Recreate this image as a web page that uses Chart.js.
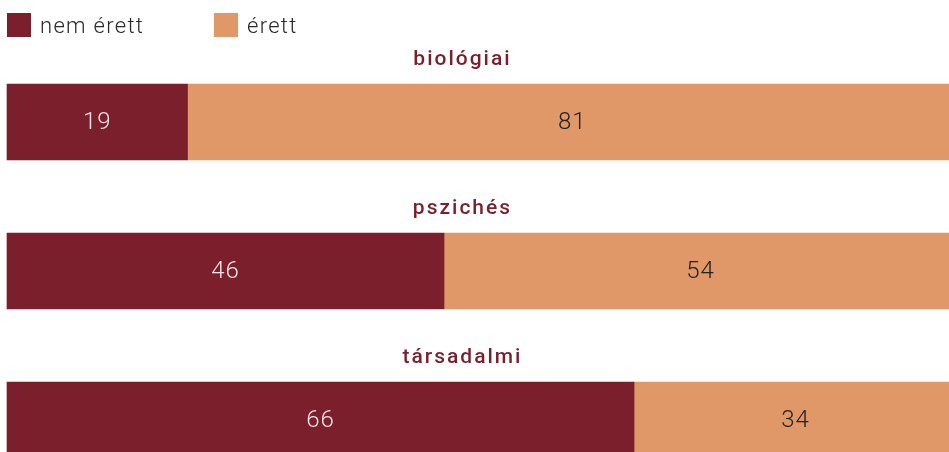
<!DOCTYPE html>
<html><head><meta charset="utf-8">
<script src="https://cdn.jsdelivr.net/npm/chart.js@4.4.0/dist/chart.umd.min.js"></script>
<style>html,body{margin:0;padding:0;background:#fff;overflow:hidden}canvas{display:block}</style>
</head><body><canvas id="c" width="949" height="452"></canvas>
<script>
const categories = ['biológiai', 'pszichés', 'társadalmi'];
const seriesNames = ['nem érett', 'érett'];
const notMature = [19, 46, 66];
const mature = [81, 54, 34];

const colors = ['#7b1f2d', '#e19868'];
const FONT = 'Roboto, "Open Sans", sans-serif';

const overlay = {
  id: 'overlay',
  afterDatasetsDraw(chart) {
    const ctx = chart.ctx;
    const ca = chart.chartArea;
    ctx.save();
    // value labels
    chart.data.datasets.forEach((ds, di) => {
      const meta = chart.getDatasetMeta(di);
      meta.data.forEach((el, i) => {
        const cx = (el.x + el.base) / 2;
        ctx.font = '300 24px ' + FONT;
        ctx.letterSpacing = '1px';
        ctx.fillStyle = di === 0 ? '#f3e3e3' : '#222222';
        ctx.textAlign = 'center';
        ctx.textBaseline = 'middle';
        ctx.fillText(String(ds.data[i]), cx, el.y + 1);
      });
    });
    // category titles above bars
    const meta0 = chart.getDatasetMeta(0);
    const tx = ca.left + (ca.right - ca.left) * 0.4835;
    meta0.data.forEach((el, i) => {
      const top = el.y - el.height / 2;
      ctx.font = '500 21px ' + FONT;
      ctx.letterSpacing = '2px';
      ctx.fillStyle = colors[0];
      ctx.textAlign = 'center';
      ctx.textBaseline = 'alphabetic';
      ctx.fillText(chart.data.labels[i], tx, top - 19.5);
    });
    // legend
    const legendX = [7, 214];
    chart.data.datasets.forEach((ds, di) => {
      const x = legendX[di];
      ctx.fillStyle = ds.backgroundColor;
      ctx.fillRect(x, 13, 24, 24);
      ctx.font = '300 22px ' + FONT;
      ctx.letterSpacing = '1.3px';
      ctx.fillStyle = '#2a2a2a';
      ctx.textAlign = 'left';
      ctx.textBaseline = 'alphabetic';
      ctx.fillText(ds.label, x + 33, 33);
    });
    ctx.restore();
  }
};

new Chart(document.getElementById('c'), {
  type: 'bar',
  data: {
    labels: categories,
    datasets: [
      { label: seriesNames[0], data: notMature, backgroundColor: colors[0], clip: false, barThickness: 76, borderWidth: 0 },
      { label: seriesNames[1], data: mature, backgroundColor: colors[1], clip: false, barThickness: 76, borderWidth: 0 }
    ]
  },
  options: {
    indexAxis: 'y',
    responsive: false,
    devicePixelRatio: 1,
    animation: false,
    layout: { padding: { top: 122, bottom: 32, left: 7, right: 0 } },
    scales: {
      x: { stacked: true, min: 0, max: 99.15, display: false },
      y: { stacked: true, display: false, offset: false }
    },
    plugins: { legend: { display: false }, tooltip: { enabled: false } }
  },
  plugins: [overlay]
});
</script>
</body></html>
